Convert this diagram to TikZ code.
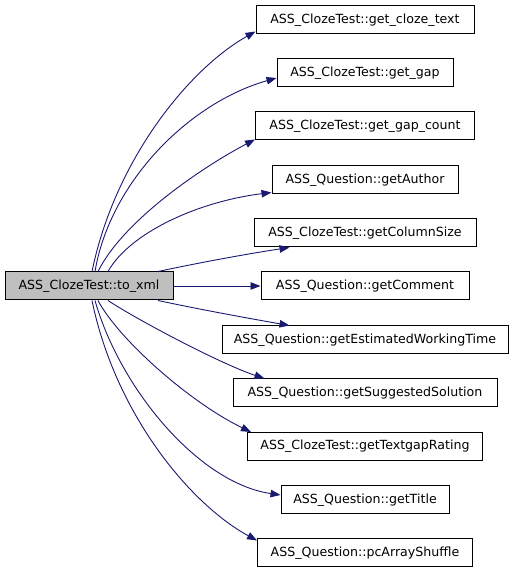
\documentclass[tikz,border=0pt]{standalone}
\usepackage{fontspec}
\setmainfont{DejaVu Sans}
\usetikzlibrary{arrows.meta}
\definecolor{edgeblue}{HTML}{191970}
\definecolor{mainfill}{HTML}{BFBFBF}
\tikzset{
  fn/.style={draw=black, line width=1pt, minimum height=28pt, inner sep=0pt, font=\fontsize{12.6}{14}\selectfont, fill=white},
  mainfn/.style={fn, fill=mainfill},
  call/.style={draw=edgeblue, line width=0.9pt, -{Triangle[length=10pt,width=7.5pt]}, fill=none}
}
\begin{document}
\begin{tikzpicture}[x=1pt,y=1pt]
\useasboundingbox (0,0) rectangle (515,573);
\node[mainfn, minimum width=168pt] (main) at (89,287) {ASS\_ClozeTest::to\_xml};
\node[fn, minimum width=218pt] (b1) at (365,553) {ASS\_ClozeTest::get\_cloze\_text};
\node[fn, minimum width=176pt] (b2) at (365,500) {ASS\_ClozeTest::get\_gap};
\node[fn, minimum width=219pt] (b3) at (365,447) {ASS\_ClozeTest::get\_gap\_count};
\node[fn, minimum width=186pt] (b4) at (365,393) {ASS\_Question::getAuthor};
\node[fn, minimum width=222pt] (b5) at (365,340) {ASS\_ClozeTest::getColumnSize};
\node[fn, minimum width=208pt] (b6) at (365,287) {ASS\_Question::getComment};
\node[fn, minimum width=286pt] (b7) at (365,233) {ASS\_Question::getEstimatedWorkingTime};
\node[fn, minimum width=264pt] (b8) at (365,180) {ASS\_Question::getSuggestedSolution};
\node[fn, minimum width=235pt] (b9) at (365,126.5) {ASS\_ClozeTest::getTextgapRating};
\node[fn, minimum width=168pt] (b10) at (365,73) {ASS\_Question::getTitle};
\node[fn, minimum width=215pt] (b11) at (365,20) {ASS\_Question::pcArrayShuffle};

\draw[call] ([xshift=3pt]main.north) .. controls +(23,112) and +(-66,-37) .. ([yshift=3pt]b1.south west);
\draw[call] ([xshift=6pt]main.north) .. controls +(15,89) and +(-88,-25) .. ([yshift=-5pt]b2.west);
\draw[call] ([xshift=9pt]main.north) .. controls +(27,54) and +(-46,-24) .. ([yshift=1pt]b3.south west);
\draw[call] ([xshift=19pt]main.north) .. controls +(22,39) and +(-73,-9) .. ([yshift=2pt]b4.south west);
\draw[call] ([xshift=69pt]main.north) .. controls +(42,9) and +(-40,-6) .. ([xshift=36pt]b5.south west);
\draw[call] (main.east) -- (b6.west);
\draw[call] ([xshift=69pt]main.south) .. controls +(42,-9) and +(-40,7) .. ([xshift=68pt]b7.north west);
\draw[call] ([xshift=19pt]main.south) .. controls +(27,-18) and +(-45,15) .. ([xshift=32pt]b8.north west);
\draw[call] ([xshift=9pt]main.south) .. controls +(20,-38) and +(-62,30) .. ([xshift=4pt]b9.north west);
\draw[call] ([xshift=6pt]main.south) .. controls +(25,-88) and +(-82,12) .. ([yshift=5pt]b10.west);
\draw[call] ([xshift=3pt]main.south) .. controls +(23,-112) and +(-68,37) .. ([yshift=-2pt]b11.north west);
\end{tikzpicture}
\end{document}
